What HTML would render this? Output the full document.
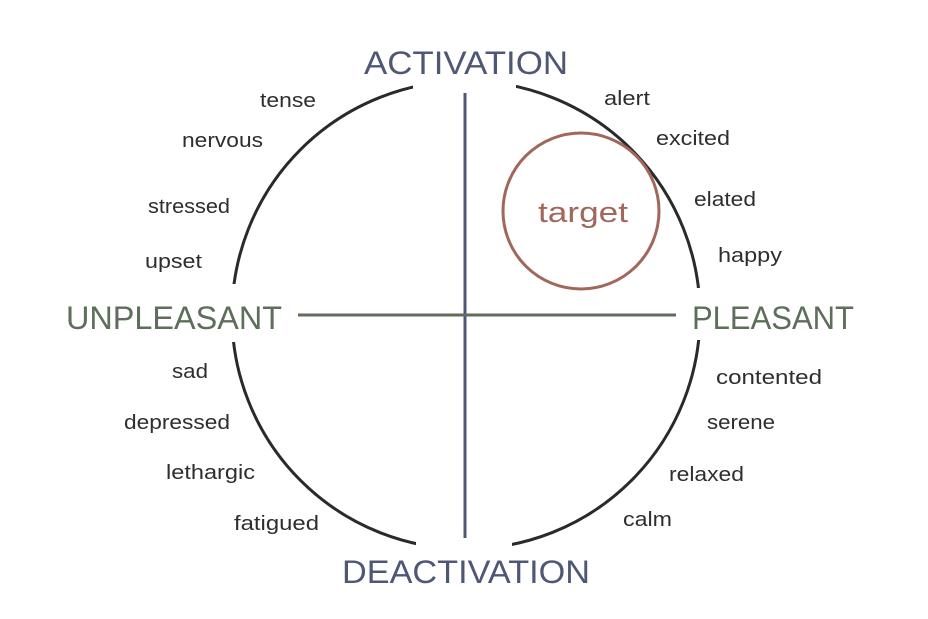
<!DOCTYPE html>
<html><head><meta charset="utf-8"><style>html,body{margin:0;padding:0;background:#fff;}svg{display:block}</style></head>
<body>
<svg width="928" height="619" viewBox="0 0 928 619" xmlns="http://www.w3.org/2000/svg" font-family="Liberation Sans, sans-serif">
<rect width="928" height="619" fill="#fff"/>
<circle cx="466" cy="315" r="234" fill="none" stroke="#2a2a2a" stroke-width="3"/>
<rect x="413" y="70" width="103" height="30" fill="#fff"/>
<rect x="416" y="532" width="96" height="30" fill="#fff"/>
<rect x="215" y="284" width="35" height="58" fill="#fff"/>
<rect x="685" y="288" width="35" height="52" fill="#fff"/>
<line x1="465" y1="93" x2="465" y2="538" stroke="#4f5776" stroke-width="3"/>
<line x1="298" y1="315" x2="676" y2="315" stroke="#5d6e5a" stroke-width="3"/>
<circle cx="581" cy="211" r="78" fill="none" stroke="#a2675b" stroke-width="3"/>
<text x="538" y="222" font-size="29" fill="#a2675b" textLength="90" lengthAdjust="spacingAndGlyphs">target</text>
<g fill="#4f5776" font-size="32">
<text x="364" y="74" textLength="204" lengthAdjust="spacingAndGlyphs">ACTIVATION</text>
<text x="342" y="583" textLength="248" lengthAdjust="spacingAndGlyphs">DEACTIVATION</text>
</g>
<g fill="#5d6e5a" font-size="32">
<text x="66" y="329" textLength="216" lengthAdjust="spacingAndGlyphs">UNPLEASANT</text>
<text x="692" y="329" textLength="162" lengthAdjust="spacingAndGlyphs">PLEASANT</text>
</g>
<g fill="#2e2e2e" font-size="20" lengthAdjust="spacingAndGlyphs">
<text x="260" y="107" textLength="56" lengthAdjust="spacingAndGlyphs">tense</text>
<text x="182" y="147" textLength="81" lengthAdjust="spacingAndGlyphs">nervous</text>
<text x="148" y="213" textLength="82" lengthAdjust="spacingAndGlyphs">stressed</text>
<text x="145" y="268" textLength="57" lengthAdjust="spacingAndGlyphs">upset</text>
<text x="172" y="378" textLength="36" lengthAdjust="spacingAndGlyphs">sad</text>
<text x="124" y="429" textLength="106" lengthAdjust="spacingAndGlyphs">depressed</text>
<text x="166" y="479" textLength="89" lengthAdjust="spacingAndGlyphs">lethargic</text>
<text x="234" y="530" textLength="85" lengthAdjust="spacingAndGlyphs">fatigued</text>
<text x="604" y="105" textLength="46" lengthAdjust="spacingAndGlyphs">alert</text>
<text x="656" y="145" textLength="74" lengthAdjust="spacingAndGlyphs">excited</text>
<text x="694" y="206" textLength="62" lengthAdjust="spacingAndGlyphs">elated</text>
<text x="718" y="262" textLength="64" lengthAdjust="spacingAndGlyphs">happy</text>
<text x="716" y="384" textLength="106" lengthAdjust="spacingAndGlyphs">contented</text>
<text x="707" y="429" textLength="68" lengthAdjust="spacingAndGlyphs">serene</text>
<text x="669" y="481" textLength="75" lengthAdjust="spacingAndGlyphs">relaxed</text>
<text x="623" y="526" textLength="49" lengthAdjust="spacingAndGlyphs">calm</text>
</g>
</svg>
</body></html>
